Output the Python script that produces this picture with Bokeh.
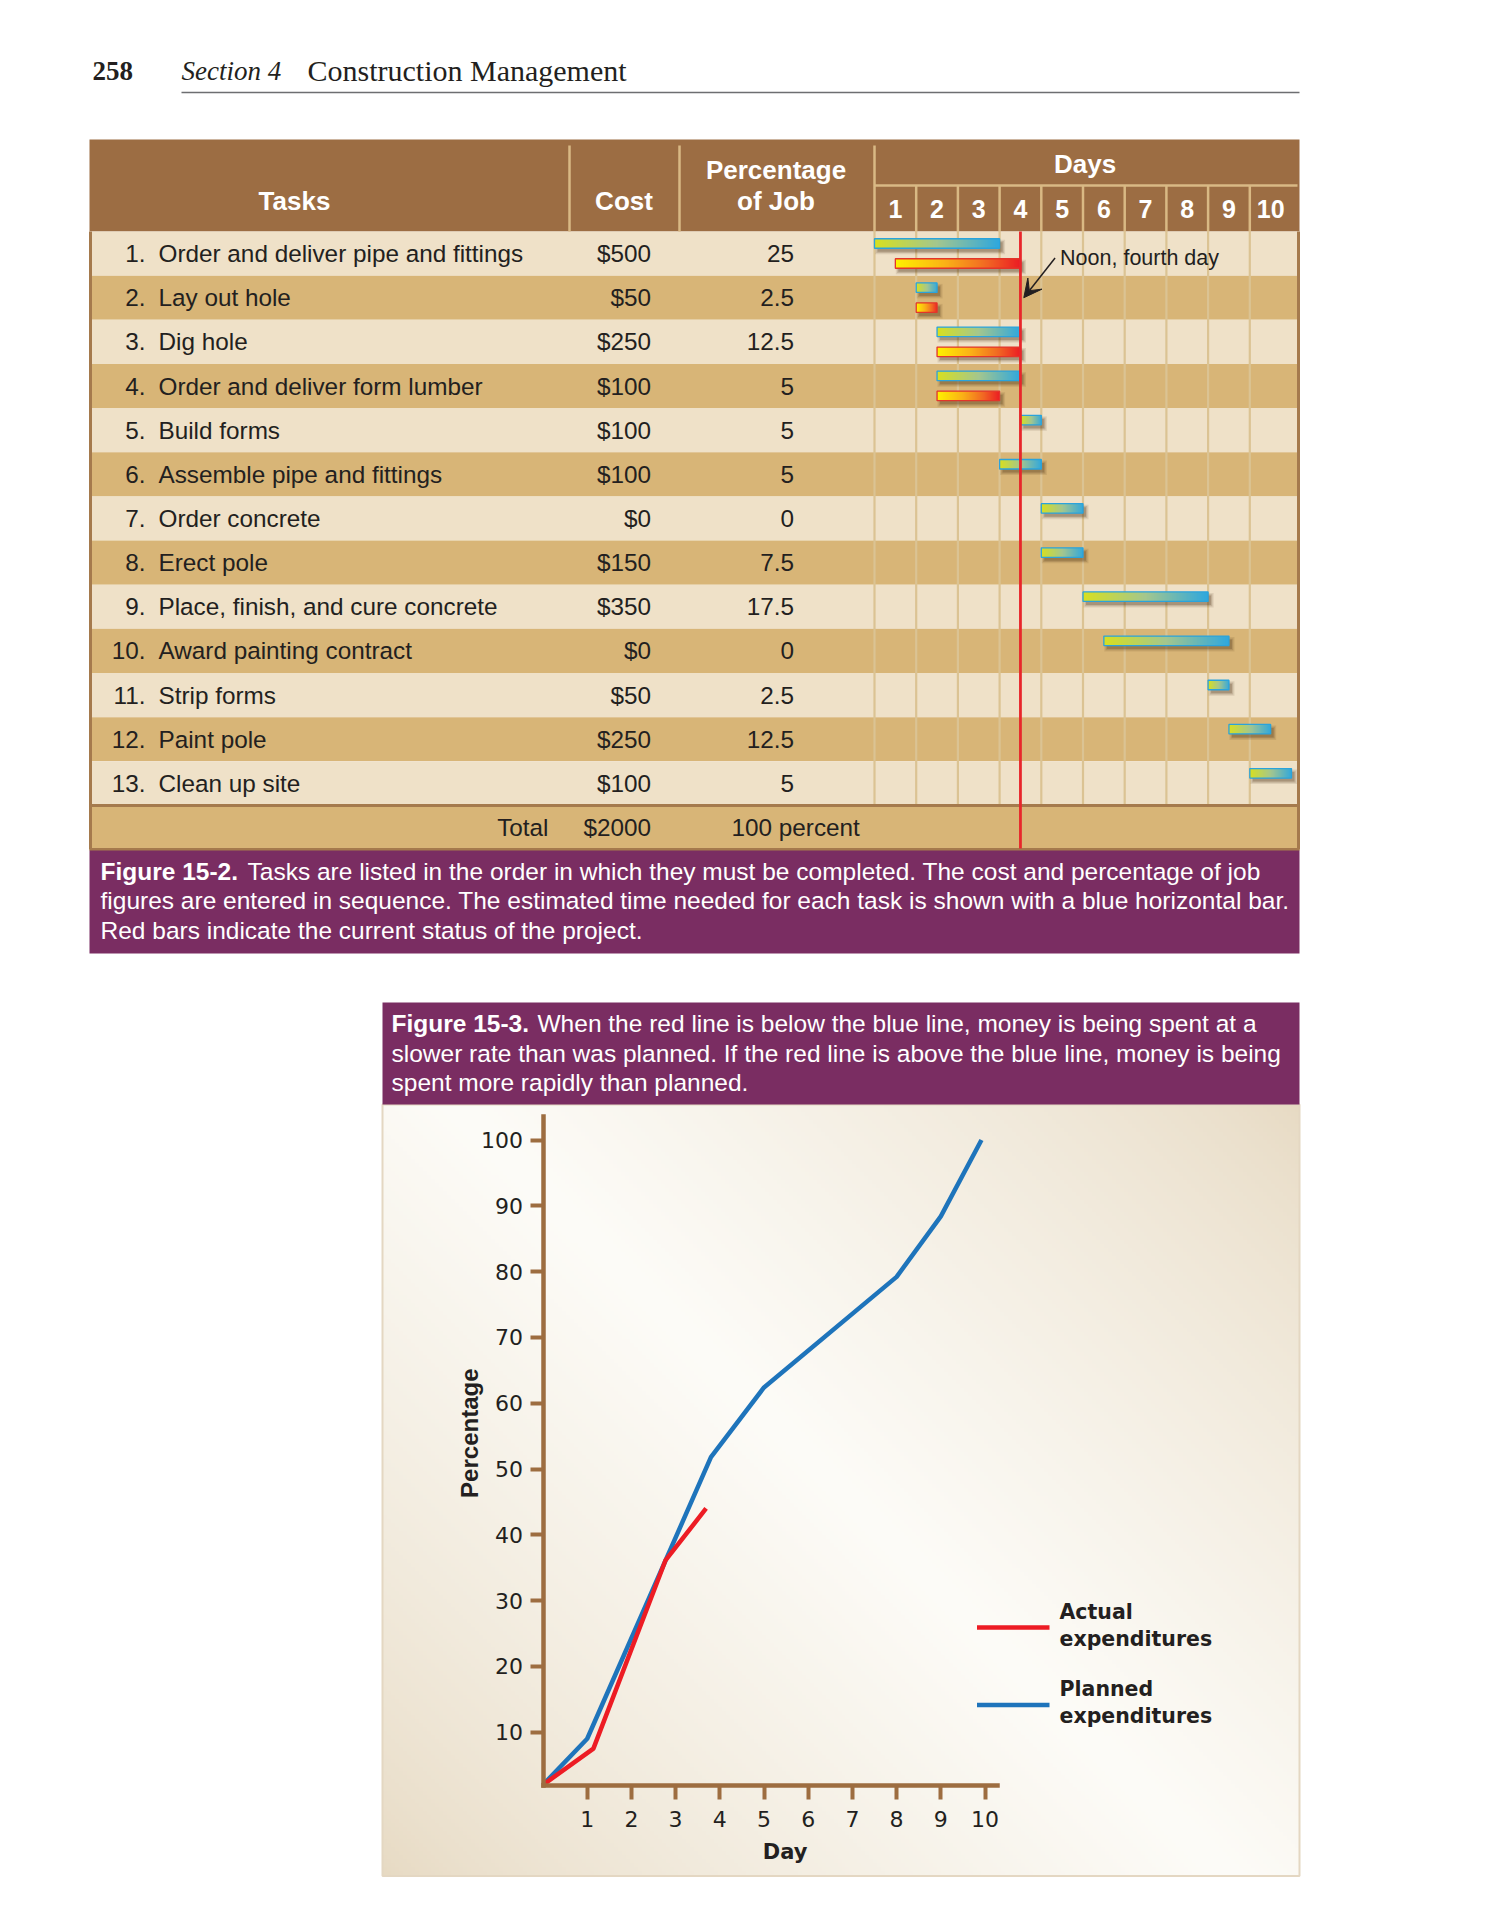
import numpy as np
from bokeh.plotting import figure
from bokeh.layouts import column
from bokeh.models import Range1d, LinearAxis, FixedTicker, Arrow, VeeHead
from bokeh.core.properties import value
from bokeh.embed import file_html
from bokeh.resources import INLINE

# ---------------- data ----------------
task_names = ["Order and deliver pipe and fittings", "Lay out hole", "Dig hole",
              "Order and deliver form lumber", "Build forms", "Assemble pipe and fittings",
              "Order concrete", "Erect pole", "Place, finish, and cure concrete",
              "Award painting contract", "Strip forms", "Paint pole", "Clean up site"]
task_cost = [500, 50, 250, 100, 100, 100, 0, 150, 350, 0, 50, 250, 100]
task_pct = [25, 2.5, 12.5, 5, 5, 5, 0, 7.5, 17.5, 0, 2.5, 12.5, 5]
planned_start = [0, 1, 1.5, 1.5, 3.5, 3, 4, 4, 5, 5.5, 8, 8.5, 9]
planned_end = [3, 1.5, 3.5, 3.5, 4, 4, 5, 5, 8, 8.5, 8.5, 9.5, 10]
actual_task = [1, 2, 3, 4]
actual_start = [0.5, 1, 1.5, 1.5]
actual_end = [3.5, 1.5, 3.5, 3]
status_day = 3.5
day_labels = [str(d) for d in range(1, 11)]

planned_day = [0, 1, 3.8, 5, 8, 9, 9.92]
planned_pct = [2, 9.0, 51.8, 62.4, 79.2, 88.4, 100]
actual_day = [0, 1.14, 2.77, 3.69]
actual_pct = [2, 7.5, 36.1, 44.0]
x_ticks = list(range(1, 11))
y_ticks = list(range(10, 101, 10))

# ---------------- style ----------------
F = value("Liberation Sans")
SERIF = value("Liberation Serif")
DJ = value("DejaVu Sans")
BROWN = "#9c6d43"
TAN = "#d8b577"
CREAM = "#efe1c8"
BORDER = "#a57a4d"
DIV = "#d9b984"
GRIDV = "#dbc393"
INK = "#231f20"
PURPLE = "#7a2d62"
RED = "#e8262b"
AX = "#9d6d40"

PAGE_W = 1493
H1 = 980
H2 = 933
X0, Y0 = 0, 0

TBL_L, TBL_R = 89, 1299
HDR_T, HDR_B = 139, 231
ROW_H = 44.15
DAY0, DAY_W = 874, 41.7


def row_of(y):
    return (y - HDR_B) / ROW_H + 0.5


def day_of(x):
    return (x - DAY0) / DAY_W


def hex2rgb(h):
    return [int(h[i:i + 2], 16) for i in (1, 3, 5)]


def to_rgba(rgb):
    ny, nx, _ = rgb.shape
    img = np.empty((ny, nx), dtype=np.uint32)
    view = img.view(dtype=np.uint8).reshape((ny, nx, 4))
    view[:, :, 0:3] = np.clip(rgb, 0, 255).astype(np.uint8)
    view[:, :, 3] = 255
    return img


def hgrad(stops, n=200):
    pos = [s[0] for s in stops]
    cols = np.array([hex2rgb(s[1]) for s in stops], float)
    t = np.linspace(0, 1, n)
    rgb = np.stack([np.interp(t, pos, cols[:, k]) for k in range(3)], axis=-1)
    return to_rgba(rgb[None, :, :])


plan_grad = hgrad([(0, "#d8e021"), (0.5, "#a4c78f"), (1, "#2fa8df")])
act_grad = hgrad([(0, "#fff200"), (0.4, "#fbb217"), (0.72, "#f26b23"), (1, "#ec1c24")])

# ---------------- top figure: table + gantt ----------------
top = figure(width=PAGE_W, height=H1, x_range=Range1d(X0, X0 + PAGE_W),
             y_range=Range1d(Y0 + H1, Y0), min_border=0, title=None,
             toolbar_location=None, output_backend="svg",
             x_axis_location=None, y_axis_location=None, outline_line_color=None,
             background_fill_color="white", border_fill_color="white")
top.grid.visible = False
top.extra_x_ranges = {"days": Range1d(day_of(X0), day_of(X0 + PAGE_W))}
top.extra_y_ranges = {"rows": Range1d(row_of(Y0 + H1), row_of(Y0))}

# running head
top.text(x=[92], y=[70], text=["258"], text_font=SERIF, text_font_style="bold",
         text_font_size="27px", text_color=INK, text_baseline="middle")
top.text(x=[181], y=[70], text=["Section 4"], text_font=SERIF, text_font_style="italic",
         text_font_size="27px", text_color=INK, text_baseline="middle")
top.text(x=[307], y=[70], text=["Construction Management"], text_font=SERIF,
         text_font_size="30px", text_color=INK, text_baseline="middle")
top.segment(x0=[181], y0=[92], x1=[1299], y1=[92], line_color="#6d6e71", line_width=1.5)

n = len(task_names)
rows = np.arange(1, n + 1)

# header band and rows
top.quad(left=[TBL_L], right=[TBL_R], top=[HDR_T], bottom=[HDR_B], fill_color=BROWN, line_color=None)
top.quad(left=TBL_L, right=TBL_R, top=rows - 0.5, bottom=rows + 0.5,
         fill_color=[CREAM if r % 2 else TAN for r in rows], line_color=None, y_range_name="rows")
top.quad(left=[TBL_L], right=[TBL_R], top=[n + 0.5], bottom=[n + 1.5], fill_color=TAN,
         line_color=None, y_range_name="rows")

# header dividers
top.segment(x0=[569, 679, DAY0], y0=[145, 145, 145], x1=[569, 679, DAY0], y1=[HDR_B] * 3,
            line_color=DIV, line_width=2.5)
top.segment(x0=[DAY0], y0=[185], x1=[1297], y1=[185], line_color=DIV, line_width=2.5)
dline = np.arange(1, 10)
top.segment(x0=dline, y0=185, x1=dline, y1=HDR_B, line_color=DIV, line_width=2.5, x_range_name="days")
dbody = np.arange(0, 10)
top.segment(x0=dbody, y0=[0.5] * len(dbody), x1=dbody, y1=[n + 0.5] * len(dbody),
            line_color=GRIDV, line_width=2.2, x_range_name="days", y_range_name="rows")

# borders
top.segment(x0=[TBL_L + 1, TBL_R - 1], y0=[HDR_B, HDR_B], x1=[TBL_L + 1, TBL_R - 1], y1=[849, 849],
            line_color=BORDER, line_width=3)
top.segment(x0=[TBL_L, TBL_L], y0=[n + 0.5, n + 1.5], x1=[TBL_R, TBL_R], y1=[n + 0.5, n + 1.5],
            line_color=BORDER, line_width=3, y_range_name="rows")

# header texts
hdr = dict(text_font=F, text_font_style="bold", text_font_size="26px", text_color="white",
           text_align="center", text_baseline="middle")
top.text(x=[294, 623.5, 775.5, 775.5], y=[200.5, 200.5, 169.7, 200.5],
         text=["Tasks", "Cost", "Percentage", "of Job"], **hdr)
top.text(x=[5.05], y=[163.5], text=["Days"], x_range_name="days", **hdr)
top.text(x=np.arange(1, 11) - 0.5, y=[208] * 10, text=day_labels, x_range_name="days",
         text_font=F, text_font_style="bold", text_font_size="25px", text_color="white",
         text_align="center", text_baseline="middle")

# body texts
body = dict(text_font=F, text_font_size="24.3px", text_color=INK, text_baseline="middle",
            y_range_name="rows")
top.text(x=[145] * n, y=rows, text=[f"{r}." for r in rows], text_align="right", **body)
top.text(x=[158] * n, y=rows, text=task_names, text_align="left", **body)
top.text(x=[650.5] * n, y=rows, text=[f"${c}" for c in task_cost], text_align="right", **body)
top.text(x=[793.5] * n, y=rows, text=[f"{p:g}" for p in task_pct], text_align="right", **body)
top.text(x=[548, 650.5], y=[n + 1] * 2, text=["Total", f"${sum(task_cost)}"], text_align="right", **body)
top.text(x=[731], y=[n + 1], text=[f"{sum(task_pct):g} percent"], text_align="left", **body)

# gantt bars
BAR_H = 0.215


def draw_bars(starts, ends, rws, grad, edge):
    s = np.array(starts, float)
    e = np.array(ends, float)
    r = np.array(rws, float)
    dx = 3.0 / DAY_W
    dy = 3.5 / ROW_H
    for k, a in [(2.5, 0.11), (1.2, 0.17), (0.0, 0.24)]:
        top.quad(left=s + dx - k / DAY_W, right=e + dx + k / DAY_W,
                 top=r - BAR_H / 2 + dy - k / ROW_H, bottom=r + BAR_H / 2 + dy + k / ROW_H,
                 fill_color="#4b3216", fill_alpha=a, line_color=None,
                 x_range_name="days", y_range_name="rows")
    top.image_rgba(image=[grad] * len(s), x=(s + e) / 2, y=r, dw=e - s, dh=[BAR_H] * len(s),
                   anchor="center", x_range_name="days", y_range_name="rows")
    top.quad(left=s, right=e, top=r - BAR_H / 2, bottom=r + BAR_H / 2, fill_alpha=0,
             line_color=edge, line_width=1.3, x_range_name="days", y_range_name="rows")


draw_bars(planned_start, planned_end, rows - 0.228, plan_grad, "#2aa3dc")
draw_bars(actual_start, actual_end, np.array(actual_task) + 0.225, act_grad, "#e2352b")

# status line + annotation
top.segment(x0=[status_day], y0=[HDR_B], x1=[status_day], y1=[848], line_color=RED,
            line_width=2.8, x_range_name="days")
top.add_layout(Arrow(end=VeeHead(size=18, fill_color=INK, line_color=INK),
                     x_start=status_day + 0.83, y_start=1.1, x_end=status_day + 0.08, y_end=2.0,
                     line_color=INK, line_width=1.5, x_range_name="days", y_range_name="rows"))
top.text(x=[status_day + 0.95], y=[1.1], text=["Noon, fourth day"], text_font=F,
         text_font_size="21.5px", text_color=INK, text_baseline="middle",
         x_range_name="days", y_range_name="rows")

# caption 15-2
top.quad(left=[TBL_L], right=[TBL_R], top=[850], bottom=[953], fill_color=PURPLE, line_color=None)
cap = dict(text_font=F, text_font_size="24.5px", text_color="white", text_baseline="middle")
top.text(x=[100], y=[870.7], text=["Figure 15-2."], text_font_style="bold", **cap)
top.text(x=[247, 100, 100], y=[870.7, 900.2, 929.7],
         text=["Tasks are listed in the order in which they must be completed. The cost and percentage of job",
               "figures are entered in sequence. The estimated time needed for each task is shown with a blue horizontal bar.",
               "Red bars indicate the current status of the project."], **cap)

# ---------------- bottom figure: expenditure chart ----------------
BX0, BDX = 542.5, 44.2
BY10, BPV = 1731.7, 6.58
BTOP = Y0 + H1


def d(x):
    return (x - BX0) / BDX


def v(y):
    return 10 + (BY10 - y) / BPV


bot = figure(width=PAGE_W, height=H2, x_range=Range1d(d(X0), d(X0 + PAGE_W)),
             y_range=Range1d(v(BTOP + H2), v(BTOP)), min_border=0, title=None,
             toolbar_location=None, output_backend="svg",
             x_axis_location=None, y_axis_location=None, outline_line_color=None,
             background_fill_color="white", border_fill_color="white")
bot.grid.visible = False

# panel gradient
PL, PR, PT, PB = 382, 1299, 1104, 1875.5
nx, ny = 230, 193
u = np.linspace(0, 1, nx)[None, :]
vv = np.linspace(0, 1, ny)[:, None]
t = (u * (PR - PL) + vv * (PB - PT)) / ((PR - PL) + (PB - PT))
w = np.clip(1 - np.abs(t - 0.5) / 0.5, 0, 1) ** 0.75
beige = np.array([231, 218, 195], float)
white = np.array([253, 252, 248], float)
panel_rgb = beige[None, None, :] + (white - beige)[None, None, :] * w[..., None]
bot.image_rgba(image=[to_rgba(panel_rgb)], x=[d(PL)], y=[v(PB)], dw=[d(PR) - d(PL)],
               dh=[v(PT) - v(PB)])
bot.quad(left=[d(PL)], right=[d(PR)], top=[v(PT)], bottom=[v(PB)], fill_alpha=0,
         line_color="#e4d7c2", line_width=2)

# caption 15-3
bot.quad(left=[d(PL)], right=[d(PR)], top=[v(1002)], bottom=[v(PT)], fill_color=PURPLE, line_color=None)
bot.text(x=[d(391)], y=[v(1023)], text=["Figure 15-3."], text_font_style="bold", **cap)
bot.text(x=[d(537), d(391), d(391)], y=[v(1023), v(1052.7), v(1082.2)],
         text=["When the red line is below the blue line, money is being spent at a",
               "slower rate than was planned. If the red line is above the blue line, money is being",
               "spent more rapidly than planned."], **cap)

# axes
X_AX_AT = 1.9
xax = LinearAxis(fixed_location=X_AX_AT, bounds=(0, 10.29), ticker=FixedTicker(ticks=x_ticks),
                 axis_line_color=AX, axis_line_width=4.5, axis_line_cap="square",
                 major_tick_line_color=AX, major_tick_line_width=4, major_tick_in=0, major_tick_out=14,
                 minor_tick_line_color=None, major_label_standoff=12,
                 major_label_text_font="DejaVu Sans", major_label_text_font_size="22px",
                 major_label_text_color=INK)
bot.add_layout(xax, "below")
yax = LinearAxis(fixed_location=0, bounds=(X_AX_AT, 103.5), ticker=FixedTicker(ticks=y_ticks),
                 axis_line_color=AX, axis_line_width=4.5, axis_line_cap="square",
                 major_tick_line_color=AX, major_tick_line_width=4, major_tick_in=0, major_tick_out=13,
                 minor_tick_line_color=None, major_label_standoff=7,
                 major_label_text_font="DejaVu Sans", major_label_text_font_size="22px",
                 major_label_text_color=INK)
bot.add_layout(yax, "left")
bot.text(x=[d(468.6)], y=[v(1432.7)], text=["Percentage"], angle=np.pi / 2, text_font=F,
         text_font_style="bold", text_font_size="24px", text_color=INK,
         text_align="center", text_baseline="middle")
bot.text(x=[d(784.6)], y=[v(1851.5)], text=["Day"], text_font=DJ, text_font_style="bold",
         text_font_size="21px", text_color=INK, text_align="center", text_baseline="middle")

# lines
BLUE = "#1e74bb"
LRED = "#ed1c24"
bot.line(planned_day, planned_pct, line_color=BLUE, line_width=4.5)
bot.line(actual_day, actual_pct, line_color=LRED, line_width=4.5)

# legend
bot.segment(x0=[d(976.5)] * 2, y0=[v(1627), v(1704.5)], x1=[d(1049)] * 2, y1=[v(1627), v(1704.5)],
            line_color=[LRED, BLUE], line_width=4.5)
bot.text(x=[d(1059)] * 4, y=[v(1611), v(1638), v(1688.5), v(1715.6)],
         text=["Actual", "expenditures", "Planned", "expenditures"], text_font=DJ,
         text_font_style="bold", text_font_size="20.5px", text_color=INK, text_baseline="middle")

page = column(top, bot, spacing=0)
open("out.html", "w").write(file_html(page, INLINE))
